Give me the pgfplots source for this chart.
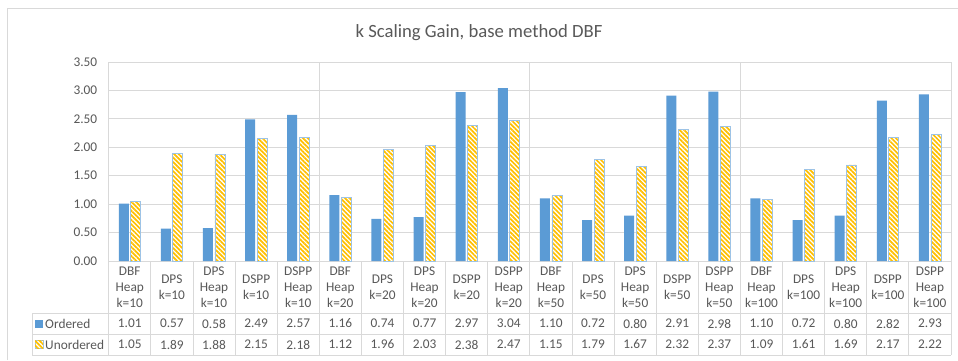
\documentclass[border=0pt]{standalone}
\usepackage{fontspec}
\setmainfont{Carlito}
\usepackage{pgfplots}
\usepackage{pgfplotstable}
\pgfplotsset{compat=1.18}
\usetikzlibrary{patterns.meta}
\definecolor{ordblue}{HTML}{5B9BD5}
\definecolor{unyel}{HTML}{FFC000}
\definecolor{unborder}{HTML}{9DC3E6}
\definecolor{gridc}{HTML}{D9D9D9}
\definecolor{txt}{HTML}{595959}

\pgfplotstableread{
x ordered unordered
0 1.01 1.05
1 0.57 1.89
2 0.58 1.88
3 2.49 2.15
4 2.57 2.18
5 1.16 1.12
6 0.74 1.96
7 0.77 2.03
8 2.97 2.38
9 3.04 2.47
10 1.10 1.15
11 0.72 1.79
12 0.80 1.67
13 2.91 2.32
14 2.98 2.37
15 1.10 1.09
16 0.72 1.61
17 0.80 1.69
18 2.82 2.17
19 2.93 2.22
}\datatable

\tikzset{stripes/.style={fill=white, postaction={pattern={Lines[angle=-45,distance=3.2pt,line width=1.7pt]}, pattern color=unyel}}}

\begin{document}
\begin{tikzpicture}[x=1pt,y=1pt]
\useasboundingbox (0,0) rectangle (958,360);
\fill[white] (0,0) rectangle (958,360);
\draw[gridc, line width=1pt] (7,0) -- (7,352) -- (958,352);
\node[txt, font=\fontsize{18.67}{22}\selectfont] at (479,327) {k Scaling Gain, base method DBF};
\begin{axis}[at={(108.7pt,99pt)}, anchor=south west, scale only axis,
  width=842.3pt, height=199pt,
  xmin=-0.5, xmax=19.5, ymin=0, ymax=3.5,
  ytick={0,0.5,1,1.5,2,2.5,3,3.5},
  xtick={-0.5,4.5,9.5,14.5,19.5}, xticklabels={,,,,},
  xmajorgrids, ymajorgrids,
  major tick length=0,
  grid style={gridc, line width=0.8pt},
  axis line style={gridc, line width=0.8pt},
  yticklabel style={txt, font=\fontsize{13.33}{16}\selectfont, xshift=-8pt,
    /pgf/number format/fixed, /pgf/number format/fixed zerofill,
    /pgf/number format/precision=2, /pgf/number format/assume math mode=true},
  ybar=2pt, bar width=10pt,
]
\addplot[fill=ordblue, draw=none] table[x=x, y=ordered] {\datatable};
\addplot[draw=unborder, line width=0.8pt, stripes] table[x=x, y=unordered] {\datatable};
\end{axis}
% data table
\foreach \k in {0,...,20} {
  \pgfmathsetmacro\xx{108.7+42.115*\k}
  \draw[gridc, line width=0.8pt] (\xx,99) -- (\xx,5);
}
\draw[gridc, line width=0.8pt] (32,47) -- (951,47);
\draw[gridc, line width=0.8pt] (32,26) -- (951,26);
\draw[gridc, line width=0.8pt] (32,5) -- (951,5);
\draw[gridc, line width=0.8pt] (32,47) -- (32,5);
\foreach \i/\lab/\o/\u in {
 0/{DBF\\Heap\\k=10}/1.01/1.05,
 1/{DPS\\k=10}/0.57/1.89,
 2/{DPS\\Heap\\k=10}/0.58/1.88,
 3/{DSPP\\k=10}/2.49/2.15,
 4/{DSPP\\Heap\\k=10}/2.57/2.18,
 5/{DBF\\Heap\\k=20}/1.16/1.12,
 6/{DPS\\k=20}/0.74/1.96,
 7/{DPS\\Heap\\k=20}/0.77/2.03,
 8/{DSPP\\k=20}/2.97/2.38,
 9/{DSPP\\Heap\\k=20}/3.04/2.47,
 10/{DBF\\Heap\\k=50}/1.10/1.15,
 11/{DPS\\k=50}/0.72/1.79,
 12/{DPS\\Heap\\k=50}/0.80/1.67,
 13/{DSPP\\k=50}/2.91/2.32,
 14/{DSPP\\Heap\\k=50}/2.98/2.37,
 15/{DBF\\Heap\\k=100}/1.10/1.09,
 16/{DPS\\k=100}/0.72/1.61,
 17/{DPS\\Heap\\k=100}/0.80/1.69,
 18/{DSPP\\k=100}/2.82/2.17,
 19/{DSPP\\Heap\\k=100}/2.93/2.22} {
  \pgfmathsetmacro\xc{108.7+42.115*(\i+0.5)}
  \node[txt, align=center, font=\fontsize{13.33}{15.8}\selectfont, inner sep=0pt] at (\xc,73) {\lab};
  \node[txt, font=\fontsize{13.33}{16}\selectfont, inner sep=0pt] at (\xc,36.5) {\o};
  \node[txt, font=\fontsize{13.33}{16}\selectfont, inner sep=0pt] at (\xc,15.5) {\u};
}
\fill[ordblue] (35,32.5) rectangle (43,40.5);
\node[txt, anchor=west, font=\fontsize{13.33}{16}\selectfont, inner sep=0pt] at (45,36.5) {Ordered};
\draw[unborder, line width=0.8pt, stripes] (35,11.5) rectangle (43,19.5);
\node[txt, anchor=west, font=\fontsize{13.33}{16}\selectfont, inner sep=0pt] at (45,15.5) {Unordered};
\end{tikzpicture}
\end{document}
